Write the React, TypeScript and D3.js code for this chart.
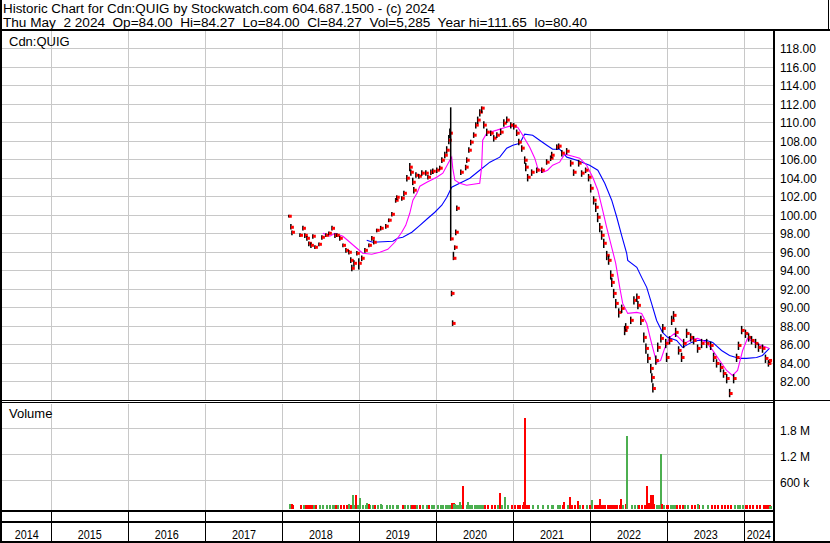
import * as React from 'react';
import * as d3 from 'd3';

const titleLine1 = "Historic Chart for Cdn:QUIG by Stockwatch.com 604.687.1500 - (c) 2024";
const titleLine2 = "Thu May  2 2024  Op=84.00  Hi=84.27  Lo=84.00  Cl=84.27  Vol=5,285  Year hi=111.65  lo=80.40";
const symbolLabel = "Cdn:QUIG";

const years = ["2014", "2015", "2016", "2017", "2018", "2019", "2020", "2021", "2022", "2023", "2024"];
const priceTicks = [82, 84, 86, 88, 90, 92, 94, 96, 98, 100, 102, 104, 106, 108, 110, 112, 114, 116, 118];
const volumeTicks = [600000, 1200000, 1800000];
const volumeTickLabels = ["600 k", "1.2 M", "1.8 M"];

// date, high, low, close, volume
const priceRows: [string, number, number, number, number][] = [
  ["2018-02-05", 100.0, 99.7, 99.84, 60000],
  ["2018-02-15", 99.0, 98.4, 98.65, 50000],
  ["2018-02-20", 98.3, 97.8, 98.11, 40000],
  ["2018-03-30", 98.0, 97.6, 97.78, 30000],
  ["2018-04-13", 98.8, 98.3, 98.54, 30000],
  ["2018-04-22", 98.0, 97.5, 97.78, 25000],
  ["2018-05-02", 97.7, 97.2, 97.46, 30000],
  ["2018-05-11", 97.1, 96.6, 96.92, 25000],
  ["2018-05-21", 97.0, 96.4, 96.70, 30000],
  ["2018-05-30", 97.9, 97.4, 97.68, 25000],
  ["2018-06-09", 96.7, 96.3, 96.49, 30000],
  ["2018-06-28", 97.0, 96.6, 96.81, 25000],
  ["2018-07-12", 97.8, 97.3, 97.57, 30000],
  ["2018-07-31", 98.0, 97.6, 97.78, 35000],
  ["2018-08-14", 98.2, 97.8, 98.0, 30000],
  ["2018-08-29", 98.8, 98.3, 98.54, 30000],
  ["2018-09-12", 98.0, 97.5, 97.78, 35000],
  ["2018-09-21", 98.0, 97.6, 97.78, 30000],
  ["2018-10-05", 97.7, 97.2, 97.46, 30000],
  ["2018-10-20", 96.9, 96.5, 96.70, 35000],
  ["2018-11-03", 96.4, 95.9, 96.16, 40000],
  ["2018-11-17", 96.2, 95.7, 95.95, 45000],
  ["2018-11-26", 95.4, 94.8, 95.08, 40000],
  ["2018-12-01", 94.6, 93.9, 94.22, 50000],
  ["2018-12-11", 95.1, 94.4, 94.76, 40000],
  ["2018-12-25", 96.1, 95.6, 95.84, 35000],
  ["2019-01-03", 95.3, 94.1, 94.76, 40000],
  ["2019-01-17", 95.6, 95.0, 95.30, 35000],
  ["2019-02-01", 96.4, 95.9, 96.16, 30000],
  ["2019-02-20", 96.9, 96.5, 96.70, 30000],
  ["2019-03-06", 97.7, 97.2, 97.46, 25000],
  ["2019-03-15", 97.3, 96.8, 97.03, 30000],
  ["2019-03-29", 98.5, 98.1, 98.32, 30000],
  ["2019-04-17", 98.8, 98.3, 98.54, 25000],
  ["2019-05-11", 99.0, 98.5, 98.76, 30000],
  ["2019-05-25", 99.6, 99.2, 99.41, 25000],
  ["2019-06-09", 100.3, 99.8, 100.05, 30000],
  ["2019-06-27", 101.8, 101.3, 101.57, 30000],
  ["2019-07-02", 102.1, 101.6, 101.89, 25000],
  ["2019-07-26", 102.0, 101.5, 101.78, 30000],
  ["2019-08-05", 102.6, 102.0, 102.32, 30000],
  ["2019-08-19", 104.3, 103.6, 103.95, 35000],
  ["2019-09-02", 105.6, 104.7, 105.14, 35000],
  ["2019-09-07", 104.9, 104.2, 104.59, 30000],
  ["2019-09-16", 104.0, 103.2, 103.51, 30000],
  ["2019-09-21", 103.0, 102.3, 102.65, 35000],
  ["2019-10-01", 104.6, 104.0, 104.27, 30000],
  ["2019-10-15", 104.4, 103.9, 104.16, 30000],
  ["2019-10-29", 104.8, 104.2, 104.49, 25000],
  ["2019-11-17", 104.8, 104.2, 104.49, 30000],
  ["2019-11-27", 104.3, 103.8, 104.05, 30000],
  ["2019-12-11", 104.9, 104.3, 104.59, 25000],
  ["2019-12-20", 105.0, 104.4, 104.70, 30000],
  ["2020-01-08", 105.1, 104.5, 104.81, 30000],
  ["2020-01-22", 105.3, 104.8, 105.03, 30000],
  ["2020-02-01", 106.2, 105.6, 105.89, 35000],
  ["2020-02-15", 106.8, 106.1, 106.43, 30000],
  ["2020-02-24", 107.4, 106.6, 106.97, 35000],
  ["2020-03-05", 108.6, 107.6, 108.05, 40000],
  ["2020-03-10", 109.3, 108.3, 108.81, 45000],
  ["2020-03-14", 111.6, 97.2, 97.4, 90000],
  ["2020-03-18", 91.8, 91.2, 91.51, 80000],
  ["2020-03-23", 88.6, 88.0, 88.27, 80000],
  ["2020-03-27", 96.0, 95.1, 95.3, 60000],
  ["2020-04-02", 96.7, 96.2, 96.49, 40000],
  ["2020-04-07", 98.4, 97.8, 98.11, 40000],
  ["2020-04-12", 101.0, 100.4, 100.70, 35000],
  ["2020-05-01", 104.9, 104.3, 104.59, 30000],
  ["2020-05-24", 105.4, 104.8, 105.14, 30000],
  ["2020-05-29", 106.2, 105.6, 105.89, 30000],
  ["2020-06-08", 107.3, 106.7, 106.97, 30000],
  ["2020-06-17", 108.1, 107.5, 107.84, 30000],
  ["2020-07-01", 108.9, 108.3, 108.59, 30000],
  ["2020-07-11", 110.0, 109.3, 109.68, 30000],
  ["2020-07-20", 110.6, 109.8, 110.22, 30000],
  ["2020-07-30", 111.4, 110.6, 111.08, 35000],
  ["2020-08-08", 111.7, 111.0, 111.51, 35000],
  ["2020-08-18", 110.1, 109.3, 109.68, 30000],
  ["2020-09-01", 109.3, 108.5, 108.92, 30000],
  ["2020-09-20", 109.1, 108.5, 108.81, 25000],
  ["2020-10-04", 108.6, 107.9, 108.27, 30000],
  ["2020-10-19", 108.9, 108.3, 108.59, 30000],
  ["2020-11-06", 109.3, 108.6, 108.92, 30000],
  ["2020-11-21", 110.3, 109.5, 109.89, 30000],
  ["2020-12-05", 110.6, 109.9, 110.22, 30000],
  ["2020-12-24", 110.0, 109.3, 109.68, 25000],
  ["2021-01-07", 109.9, 109.2, 109.57, 30000],
  ["2021-01-21", 109.2, 108.5, 108.81, 30000],
  ["2021-01-31", 108.2, 107.5, 107.84, 30000],
  ["2021-02-14", 107.5, 106.8, 107.19, 35000],
  ["2021-02-28", 106.3, 105.5, 105.89, 40000],
  ["2021-03-05", 105.6, 104.7, 105.14, 35000],
  ["2021-03-14", 104.4, 103.6, 104.05, 35000],
  ["2021-04-02", 104.9, 104.2, 104.59, 30000],
  ["2021-04-26", 105.1, 104.5, 104.81, 30000],
  ["2021-05-20", 105.1, 104.5, 104.81, 30000],
  ["2021-06-12", 106.0, 105.4, 105.68, 30000],
  ["2021-07-01", 106.4, 105.8, 106.11, 30000],
  ["2021-07-06", 106.8, 106.1, 106.43, 30000],
  ["2021-07-30", 107.6, 107.0, 107.30, 30000],
  ["2021-08-08", 107.7, 107.1, 107.41, 30000],
  ["2021-08-23", 107.0, 106.3, 106.65, 30000],
  ["2021-09-15", 107.2, 106.5, 106.86, 30000],
  ["2021-10-04", 105.9, 105.2, 105.57, 30000],
  ["2021-10-18", 104.9, 104.2, 104.59, 35000],
  ["2021-11-11", 105.9, 105.2, 105.57, 30000],
  ["2021-11-25", 104.8, 104.1, 104.49, 30000],
  ["2021-12-14", 105.1, 104.5, 104.81, 30000],
  ["2021-12-28", 104.4, 103.6, 104.05, 35000],
  ["2022-01-07", 103.3, 102.4, 102.86, 40000],
  ["2022-01-21", 102.0, 101.1, 101.57, 40000],
  ["2022-01-31", 101.3, 100.3, 100.81, 40000],
  ["2022-02-09", 100.2, 99.2, 99.73, 40000],
  ["2022-02-19", 99.1, 98.1, 98.65, 40000],
  ["2022-02-28", 98.3, 97.3, 97.78, 40000],
  ["2022-03-10", 97.4, 96.4, 96.92, 40000],
  ["2022-03-24", 96.1, 95.1, 95.62, 45000],
  ["2022-04-02", 95.6, 94.6, 95.08, 45000],
  ["2022-04-12", 94.0, 93.0, 93.46, 45000],
  ["2022-04-17", 93.2, 92.2, 92.70, 45000],
  ["2022-04-26", 92.0, 91.0, 91.51, 45000],
  ["2022-05-06", 90.9, 89.9, 90.43, 45000],
  ["2022-05-20", 89.9, 88.9, 89.46, 45000],
  ["2022-06-03", 90.3, 89.4, 89.89, 40000],
  ["2022-06-17", 88.0, 87.0, 87.51, 50000],
  ["2022-06-22", 88.3, 87.4, 87.84, 50000],
  ["2022-07-16", 89.0, 88.2, 88.6, 40000],
  ["2022-07-31", 91.2, 90.3, 90.76, 40000],
  ["2022-08-14", 91.5, 90.6, 91.08, 40000],
  ["2022-08-19", 90.7, 89.8, 90.22, 40000],
  ["2022-09-02", 89.1, 88.1, 88.59, 45000],
  ["2022-09-16", 87.3, 86.2, 86.76, 45000],
  ["2022-09-26", 86.1, 85.0, 85.57, 50000],
  ["2022-10-05", 85.0, 84.0, 84.49, 50000],
  ["2022-10-19", 83.9, 82.9, 83.41, 50000],
  ["2022-10-24", 82.9, 81.9, 82.43, 50000],
  ["2022-10-29", 81.8, 80.8, 81.24, 50000],
  ["2022-11-12", 84.8, 83.8, 84.27, 45000],
  ["2022-11-21", 86.2, 85.2, 85.68, 45000],
  ["2022-12-06", 87.1, 86.2, 86.65, 40000],
  ["2022-12-15", 88.2, 87.3, 87.73, 40000],
  ["2022-12-29", 86.6, 85.6, 86.11, 40000],
  ["2023-01-02", 85.1, 84.1, 84.59, 40000],
  ["2023-01-16", 86.9, 86.0, 86.43, 40000],
  ["2023-01-26", 89.1, 88.1, 88.59, 40000],
  ["2023-02-04", 89.6, 88.7, 89.14, 40000],
  ["2023-02-14", 87.8, 86.8, 87.30, 40000],
  ["2023-02-28", 85.8, 84.9, 85.35, 40000],
  ["2023-03-14", 85.1, 84.1, 84.59, 40000],
  ["2023-03-24", 86.6, 85.6, 86.11, 40000],
  ["2023-04-07", 87.7, 86.7, 87.19, 35000],
  ["2023-04-26", 87.2, 86.3, 86.76, 35000],
  ["2023-05-10", 86.9, 86.0, 86.43, 35000],
  ["2023-05-29", 86.0, 85.1, 85.57, 35000],
  ["2023-06-17", 86.6, 85.6, 86.11, 35000],
  ["2023-07-11", 86.6, 85.6, 86.11, 35000],
  ["2023-07-30", 86.3, 85.4, 85.89, 35000],
  ["2023-08-13", 85.1, 84.1, 84.59, 35000],
  ["2023-08-27", 84.4, 83.5, 83.95, 35000],
  ["2023-09-15", 84.0, 83.0, 83.51, 35000],
  ["2023-09-29", 83.3, 82.4, 82.86, 35000],
  ["2023-10-14", 82.8, 81.8, 82.32, 40000],
  ["2023-10-28", 81.2, 80.3, 80.70, 40000],
  ["2023-11-16", 82.8, 81.8, 82.32, 35000],
  ["2023-11-30", 85.0, 84.1, 84.59, 35000],
  ["2023-12-09", 86.3, 85.4, 85.89, 35000],
  ["2023-12-24", 88.0, 87.1, 87.51, 35000],
  ["2024-01-11", 87.6, 86.7, 87.19, 35000],
  ["2024-01-26", 87.2, 86.3, 86.76, 35000],
  ["2024-02-09", 86.9, 86.0, 86.43, 35000],
  ["2024-02-28", 86.6, 85.6, 86.11, 35000],
  ["2024-03-13", 86.1, 85.2, 85.68, 35000],
  ["2024-04-01", 86.0, 85.1, 85.57, 35000],
  ["2024-04-15", 84.9, 84.0, 84.49, 35000],
  ["2024-04-29", 84.3, 83.6, 83.95, 35000],
  ["2024-05-02", 84.27, 84.0, 84.27, 5285],
];

// heavy-volume days: date, volume, direction
const volumeSpikes: [string, number, string][] = [
  ["2018-11-12", 58000, "up"],
  ["2018-12-04", 265000, "up"],
  ["2018-12-17", 265000, "down"],
  ["2019-01-03", 203000, "up"],
  ["2019-02-05", 81000, "up"],
  ["2019-02-15", 58000, "down"],
  ["2019-04-13", 58000, "up"],
  ["2020-04-24", 104000, "up"],
  ["2020-05-05", 473000, "down"],
  ["2020-05-29", 104000, "up"],
  ["2020-10-28", 311000, "down"],
  ["2020-11-21", 219000, "up"],
  ["2021-02-19", 104000, "down"],
  ["2021-02-27", 2050000, "down"],
  ["2021-08-31", 104000, "down"],
  ["2021-09-25", 219000, "down"],
  ["2021-11-02", 127000, "down"],
  ["2022-01-10", 150000, "up"],
  ["2022-02-14", 173000, "down"],
  ["2022-05-28", 173000, "down"],
  ["2022-06-22", 1630000, "up"],
  ["2022-09-26", 473000, "down"],
  ["2022-10-04", 81000, "down"],
  ["2022-10-17", 265000, "down"],
  ["2022-10-24", 265000, "down"],
  ["2022-11-30", 1210000, "up"],
  ["2022-12-08", 50000, "down"],
  ["2023-05-28", 58000, "up"],
  ["2024-01-14", 35000, "down"],
];

// short moving average (magenta)
const maShort: [string, number][] = [
  ["2018-07-12", 98.0], ["2018-08-14", 97.68], ["2018-09-07", 98.0], ["2018-10-15", 97.68],
  ["2018-11-17", 97.03], ["2018-12-20", 96.38], ["2019-01-17", 95.84], ["2019-03-01", 95.73],
  ["2019-04-08", 95.95], ["2019-05-16", 96.27], ["2019-06-18", 97.03], ["2019-07-21", 98.11],
  ["2019-08-09", 98.86], ["2019-08-28", 100.16], ["2019-09-12", 101.57], ["2019-10-01", 102.32],
  ["2019-10-15", 103.08], ["2019-11-17", 103.51], ["2020-01-03", 104.05], ["2020-02-01", 104.49],
  ["2020-03-05", 105.89], ["2020-03-14", 106.22], ["2020-03-19", 105.03], ["2020-03-29", 103.73],
  ["2020-04-21", 103.41], ["2020-05-24", 103.19], ["2020-07-25", 103.41], ["2020-08-03", 105.14],
  ["2020-08-08", 108.05], ["2020-08-27", 108.81], ["2020-10-14", 109.14], ["2020-11-11", 109.35],
  ["2020-12-14", 109.57], ["2021-01-21", 109.46], ["2021-02-14", 108.59], ["2021-03-19", 107.30],
  ["2021-04-12", 106.11], ["2021-04-26", 105.03], ["2021-05-20", 104.59], ["2021-06-12", 104.81],
  ["2021-07-06", 105.35], ["2021-08-08", 105.68], ["2021-09-01", 106.54], ["2021-10-09", 106.32],
  ["2021-11-11", 106.11], ["2021-12-14", 105.35], ["2022-01-12", 104.05], ["2022-02-05", 102.65],
  ["2022-02-28", 100.49], ["2022-03-19", 98.65], ["2022-04-12", 96.49], ["2022-05-01", 94.76],
  ["2022-05-20", 92.16], ["2022-06-03", 90.43], ["2022-06-27", 89.35], ["2022-08-09", 89.46],
  ["2022-09-01", 89.35], ["2022-09-25", 88.27], ["2022-10-18", 86.11], ["2022-11-11", 84.05],
  ["2022-11-30", 84.27], ["2022-12-19", 85.57], ["2023-01-12", 86.76], ["2023-02-04", 87.19],
  ["2023-02-28", 86.65], ["2023-03-24", 86.11], ["2023-04-26", 86.54], ["2023-05-25", 86.65],
  ["2023-07-06", 86.22], ["2023-08-04", 85.35], ["2023-09-06", 84.27], ["2023-10-09", 83.19],
  ["2023-11-06", 82.65], ["2023-11-30", 83.19], ["2023-12-24", 85.35], ["2024-01-16", 86.65],
  ["2024-02-18", 86.22], ["2024-03-22", 85.89], ["2024-04-29", 85.57],
];

// long moving average (blue)
const maLong: [string, number][] = [
  ["2019-02-05", 97.24], ["2019-03-06", 97.03], ["2019-06-09", 97.14], ["2019-07-02", 97.46],
  ["2019-07-26", 97.57], ["2019-09-07", 98.11], ["2019-10-15", 98.86], ["2019-11-22", 99.62],
  ["2019-12-25", 100.27], ["2020-01-27", 101.03], ["2020-02-20", 101.89], ["2020-03-14", 102.97],
  ["2020-04-21", 103.41], ["2020-06-08", 103.95], ["2020-07-25", 104.81], ["2020-09-11", 105.68],
  ["2020-10-28", 106.22], ["2020-11-30", 107.19], ["2020-12-29", 107.51], ["2021-01-31", 107.73],
  ["2021-02-23", 108.70], ["2021-04-02", 108.59], ["2021-05-05", 108.05], ["2021-06-08", 107.51],
  ["2021-07-06", 107.08], ["2021-08-08", 107.08], ["2021-09-11", 106.22], ["2021-10-28", 105.89],
  ["2021-12-28", 105.35], ["2022-02-05", 104.81], ["2022-03-10", 103.41], ["2022-04-12", 101.57],
  ["2022-05-06", 99.73], ["2022-05-29", 97.78], ["2022-06-22", 95.84], ["2022-06-27", 95.08],
  ["2022-08-09", 94.32], ["2022-09-01", 93.24], ["2022-09-25", 92.16], ["2022-10-18", 90.43],
  ["2022-11-11", 88.59], ["2022-12-09", 87.30], ["2023-01-02", 86.76], ["2023-02-14", 86.43],
  ["2023-03-14", 85.68], ["2023-04-26", 86.22], ["2023-05-25", 86.43], ["2023-07-06", 86.43],
  ["2023-08-04", 86.22], ["2023-09-15", 85.35], ["2023-10-23", 84.81], ["2023-12-09", 84.49],
  ["2024-01-11", 84.49], ["2024-02-28", 84.59], ["2024-03-27", 84.81], ["2024-04-29", 85.57],
];

const W = 830;
const H = 543;
const left = 2;
const right = 773;
const priceTop = 31;
const priceBottom = 400;
const volTop = 404;
const volBottom = 510;
const bandMid = 522;
const bandBottom = 541;
const font = "'Liberation Sans', Arial, sans-serif";
const up = "#4caf50";
const down = "#ff0000";

export default function App() {
  const parse = (s: string) => new Date(s + "T00:00:00Z");

  const x = d3.scaleUtc()
    .domain([parse("2014-05-12"), parse("2024-05-16")])
    .range([left, right]);
  const y = d3.scaleLinear().domain([80, 119.84]).range([priceBottom, priceTop]);
  const yv = d3.scaleLinear().domain([0, 2365000]).range([506.5, volTop]);

  const boundaries = years.slice(1).map(yr => x(parse(yr + "-01-01")));
  const cellEdges = [left, ...boundaries, right];

  const line = d3.line<[string, number]>()
    .x(d => x(parse(d[0])))
    .y(d => y(d[1]));

  return (
    <svg width={W} height={H} style={{ position: 'absolute', left: 0, top: 0, display: 'block', background: '#fff' }}
      fontFamily={font}>
      <defs>
        <clipPath id="plotClip">
          <rect x={left} y={priceTop} width={right - left} height={priceBottom - priceTop} />
        </clipPath>
      </defs>
      <rect x={0} y={0} width={W} height={H} fill="#fff" />

      {/* header */}
      <text x={3} y={12.5} fontSize={12} textLength={432} lengthAdjust="spacingAndGlyphs"
        style={{ whiteSpace: 'pre' }}>{titleLine1}</text>
      <text x={3} y={26.5} fontSize={12} textLength={584} lengthAdjust="spacingAndGlyphs"
        style={{ whiteSpace: 'pre' }}>{titleLine2}</text>

      {/* price grid */}
      <g shapeRendering="crispEdges" stroke="#c8c8c8" strokeWidth={1}>
        {priceTicks.map(t => (
          <line key={'h' + t} x1={left} x2={right} y1={Math.round(y(t)) + 0.5} y2={Math.round(y(t)) + 0.5} />
        ))}
        {boundaries.map((b, i) => (
          <line key={'pv' + i} x1={Math.round(b) + 0.5} x2={Math.round(b) + 0.5} y1={priceTop} y2={priceBottom} />
        ))}
        {volumeTicks.map(t => (
          <line key={'vh' + t} x1={left} x2={right} y1={Math.round(yv(t)) + 0.5} y2={Math.round(yv(t)) + 0.5} />
        ))}
        {boundaries.map((b, i) => (
          <line key={'vv' + i} x1={Math.round(b) + 0.5} x2={Math.round(b) + 0.5} y1={volTop} y2={volBottom} />
        ))}
      </g>

      <text x={9} y={46} fontSize={13}>{symbolLabel}</text>
      <text x={9} y={418} fontSize={13}>Volume</text>

      {/* price marks */}
      <g clipPath="url(#plotClip)">
        <path d={line(maLong) || ''} fill="none" stroke="#0000ff" strokeWidth={1.1} />
        <path d={line(maShort) || ''} fill="none" stroke="#ff00ff" strokeWidth={1.1} />
        {priceRows.map((r, i) => {
          const cx = x(parse(r[0]));
          return (
            <g key={'p' + i}>
              <line x1={cx - 1} x2={cx - 1} y1={y(r[1])} y2={y(r[2])} stroke="#000" strokeWidth={1.5} />
              <rect x={cx - 1} y={y(r[3]) - 1.5} width={3} height={3} fill="#ff0000" />
            </g>
          );
        })}
      </g>

      {/* volume bars */}
      <g shapeRendering="crispEdges">
        {priceRows.map((r, i) => {
          const prev = i > 0 ? priceRows[i - 1][3] : r[3];
          const cx = x(parse(r[0]));
          return (
            <rect key={'v' + i} x={cx - 1} width={2.5} y={yv(r[4])} height={yv(0) - yv(r[4]) + 2}
              fill={r[3] >= prev ? up : down} />
          );
        })}
        {volumeSpikes.map((s, i) => {
          const cx = x(parse(s[0]));
          return (
            <rect key={'s' + i} x={cx - 1} width={2} y={yv(s[1])} height={yv(0) - yv(s[1]) + 2}
              fill={s[2] === 'up' ? up : down} />
          );
        })}
      </g>

      {/* axis labels */}
      {priceTicks.map(t => (
        <text key={'pl' + t} x={780} y={y(t) + 5} fontSize={12}>{t.toFixed(2)}</text>
      ))}
      {volumeTicks.map((t, i) => (
        <text key={'vl' + t} x={780} y={yv(t) + 7} fontSize={12}>{volumeTickLabels[i]}</text>
      ))}

      {/* date band */}
      {years.map((yr, i) => {
        const cx = (cellEdges[i] + cellEdges[i + 1]) / 2;
        return (
          <text key={'yr' + yr} x={cx} y={539} fontSize={13} textAnchor="middle"
            textLength={24} lengthAdjust="spacingAndGlyphs">{yr}</text>
        );
      })}

      {/* frame lines */}
      <g shapeRendering="crispEdges" stroke="#000" fill="none">
        {boundaries.map((b, i) => (
          <line key={'bd' + i} x1={Math.round(b) + 0.5} x2={Math.round(b) + 0.5} y1={volBottom} y2={bandBottom} />
        ))}
        <line x1={0} x2={W} y1={30} y2={30} strokeWidth={2} />
        <line x1={0} x2={W} y1={400.5} y2={400.5} strokeWidth={1} />
        <line x1={left} x2={right} y1={402.5} y2={402.5} strokeWidth={1} />
        <line x1={0} x2={right} y1={volBottom + 1} y2={volBottom + 1} strokeWidth={2} />
        <line x1={0} x2={right} y1={bandMid} y2={bandMid} strokeWidth={2} />
        <line x1={0} x2={W} y1={bandBottom + 0.5} y2={bandBottom + 0.5} strokeWidth={2} />
        <line x1={right + 1} x2={right + 1} y1={30} y2={bandBottom} strokeWidth={2} />
        <line x1={0.5} x2={0.5} y1={0} y2={H} strokeWidth={2} />
        <line x1={828.5} x2={828.5} y1={0} y2={31} strokeWidth={1} />
      </g>
    </svg>
  );
}
